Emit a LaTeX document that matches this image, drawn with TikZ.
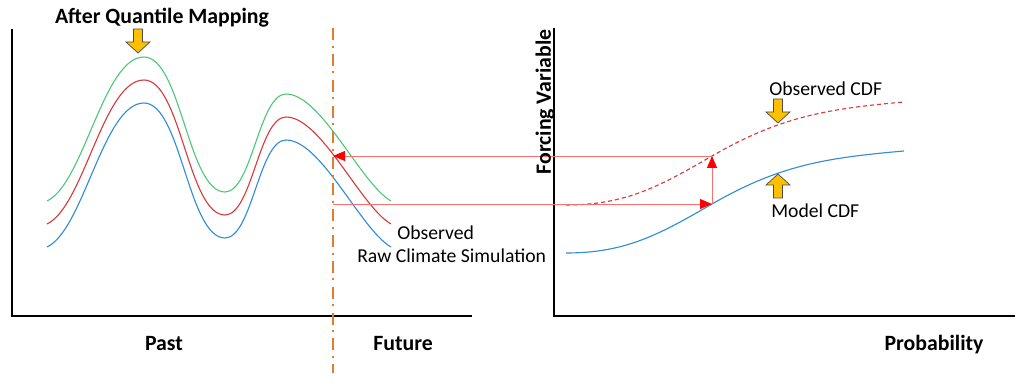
\documentclass[tikz,border=0pt]{standalone}
\usepackage{fontspec}
\setmainfont{Carlito}
\usetikzlibrary{arrows.meta,positioning}
\definecolor{qmgreen}{RGB}{80,200,120}
\definecolor{qmred}{RGB}{215,60,60}
\definecolor{qmblue}{RGB}{50,140,215}
\definecolor{qmorange}{RGB}{228,124,48}
\definecolor{qmyellow}{RGB}{255,192,0}
\definecolor{qmline}{RGB}{255,110,110}

\begin{document}
\begin{tikzpicture}[
  x=0.025cm, y=0.025cm,
  font=\fontsize{14}{16}\selectfont,
  axis/.style={line width=1.3pt, black},
  series/.style={line width=0.8pt, looseness=0.6},
  lbl/.style={inner sep=0pt, anchor=west},
  ttl/.style={inner sep=0pt, font=\fontsize{15.5}{18}\selectfont\bfseries},
  ar/.style={draw=qmline, line width=0.7pt, -{Triangle[length=0.3cm,width=0.25cm,color=red]}},
  split/.style={qmorange, line width=1.4pt, dash pattern=on 8.5pt off 4pt on 1.4pt off 4.5pt},
  pics/blockarrow/.style={code={
    \draw[fill=qmyellow, draw=black!70, line width=0.5pt, line join=miter]
      (-4.5,24) -- (4.5,24) -- (4.5,11) -- (12,11) -- (0,0) -- (-12,11) -- (-4.5,11) -- cycle;}},
]
\useasboundingbox (0,0) rectangle (1024,387);

%% ---------- left: time series ----------
\coordinate (lo) at (12,71);
\coordinate (ltop) at (12,358);
\coordinate (lend) at (472,71);
\draw[axis] (ltop) -- (lo) -- (lend);

\foreach \col/\dy in {qmgreen/0, qmred/-23, qmblue/-46}{
  \draw[series, \col, shift={(0,\dy)}] (47,186) to[out=25,in=180] (144,330)
    to[out=0,in=180] (225,195) to[out=0,in=180] (286,293) to[out=0,in=150] (391,186);
}

\coordinate (stop) at (333,359);
\coordinate (sbot) at (333,14);
\coordinate (fut1) at (333,231);
\coordinate (fut2) at (333,183);

%% ---------- right: CDFs ----------
\coordinate (ro) at (554,71);
\coordinate (rtop) at (554,359);
\coordinate (rend) at (1015,71);
\draw[axis] (rtop) -- (ro) -- (rend);

\coordinate (obsPt) at (712,231);
\coordinate (modPt) at (712,183);
\draw[series, looseness=1, qmblue] (566,134) to[out=0,in=210] (modPt) to[out=30,in=185] (904,236);
\draw[series, looseness=1, qmred, dash pattern=on 3pt off 2pt] (566,182) to[out=0,in=210] (obsPt) to[out=30,in=185] (904,285);

% mapping arrows
\draw[ar] (fut2) -- (modPt);
\draw[ar] (modPt) -- (obsPt);
\draw[ar] (obsPt) -- (fut1);

\draw[split] (stop) -- (sbot);

\pic at (138,334) {blockarrow};
\pic at (778,264) {blockarrow};
\pic[rotate=180] at (778,213) {blockarrow};

%% ---------- labels ----------
\node[ttl] (title) at (162,369) {After Quantile Mapping};
\node[ttl] (past) at (164,43) {Past};
\node[ttl] (future) at (403,43) {Future};
\node[ttl] (prob) at (934,42) {Probability};
\node[ttl, rotate=90] (forcing) at (545,285) {Forcing Variable};
\node[lbl] (obs) at (397,154) {Observed};
\node[lbl] (raw) at (357,131) {Raw Climate Simulation};
\node[lbl] (obscdf) at (769,298) {Observed CDF};
\node[lbl] (modcdf) at (771,176) {Model CDF};
\end{tikzpicture}
\end{document}
